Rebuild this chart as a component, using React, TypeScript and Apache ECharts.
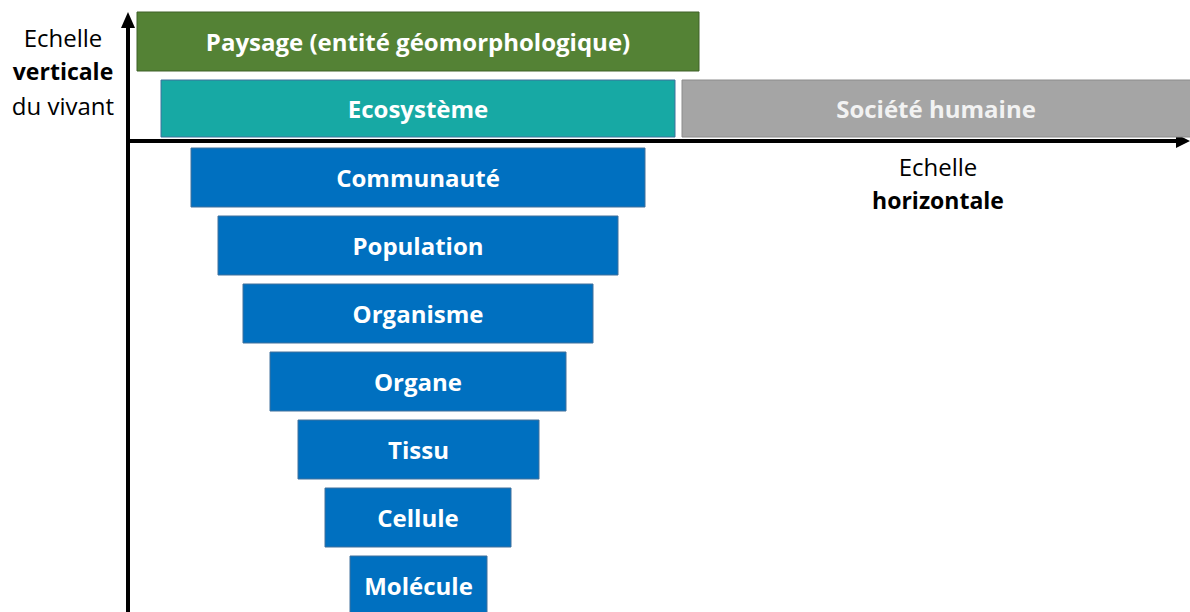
import React, { useEffect, useRef } from "react";
import * as echarts from "echarts";

const boxLabels = [
  "Paysage (entité géomorphologique)",
  "Ecosystème",
  "Société humaine",
  "Communauté",
  "Population",
  "Organisme",
  "Organe",
  "Tissu",
  "Cellule",
  "Molécule",
];
const boxStart = [137, 161, 682, 191, 218, 243, 270, 298, 325, 350];
const boxEnd = [699, 675, 1196, 645, 618, 593, 566, 539, 511, 487];
const boxTop = [12, 80, 80, 148, 216, 284, 352, 420, 488, 556];
const boxBottom = [71, 137, 137, 207, 275, 343, 411, 479, 547, 616];
const boxKind = [0, 1, 2, 3, 3, 3, 3, 3, 3, 3];

const kindFill = ["#548235", "#17A9A4", "#A5A5A5", "#0070C0"];
const kindStroke = ["#3E6128", "#41719C", "#8C8C8C", "#41719C"];

const verticalTitle = ["Echelle", "verticale", "du vivant"];
const horizontalTitle = ["Echelle", "horizontale"];

const FONT = "'Open Sans', Lato, sans-serif";

export default function App() {
  const ref = useRef<HTMLDivElement>(null);
  useEffect(() => {
    document.body.style.margin = "0";
    const chart = echarts.init(ref.current!, null, { renderer: "svg" });
    const data = boxLabels.map((l, i) => [boxStart[i], boxEnd[i], boxTop[i], boxBottom[i], boxKind[i], l]);
    chart.setOption({
      animation: false,
      backgroundColor: "#ffffff",
      grid: { left: 0, right: 0, top: 0, bottom: 0 },
      xAxis: { type: "value", min: 0, max: 1190, show: false },
      yAxis: { type: "value", min: 0, max: 612, inverse: true, show: false },
      series: [
        {
          type: "custom",
          clip: false,
          data,
          renderItem: (params: any, api: any) => {
            const p0 = api.coord([api.value(0), api.value(2)]);
            const p1 = api.coord([api.value(1), api.value(3)]);
            const k = api.value(4);
            const label = boxLabels[params.dataIndex];
            return {
              type: "group",
              children: [
                {
                  type: "rect",
                  shape: { x: p0[0], y: p0[1], width: p1[0] - p0[0], height: p1[1] - p0[1] },
                  style: { fill: kindFill[k], stroke: kindStroke[k], lineWidth: 1 },
                },
                {
                  type: "text",
                  x: (p0[0] + Math.min(p1[0], 1190)) / 2,
                  y: (p0[1] + Math.min(p1[1], 612)) / 2 + (params.dataIndex === 9 ? 1 : 0),
                  style: {
                    text: label,
                    fill: k === 2 ? "#F2F2F2" : "#ffffff",
                    font: `bold 24px ${FONT}`,
                    align: "center",
                    verticalAlign: "middle",
                  },
                },
              ],
            };
          },
        },
      ],
      graphic: [
        { type: "line", shape: { x1: 128, y1: 24, x2: 128, y2: 612 }, style: { stroke: "#000", lineWidth: 4 } },
        { type: "polygon", shape: { points: [[128, 12], [121, 28], [135, 28]] }, style: { fill: "#000" } },
        { type: "line", shape: { x1: 126, y1: 141, x2: 1178, y2: 141 }, style: { stroke: "#000", lineWidth: 4 } },
        { type: "polygon", shape: { points: [[1190, 141], [1176, 134], [1176, 148]] }, style: { fill: "#000" } },
        ...verticalTitle.map((t, i) => ({
          type: "text",
          x: 63,
          y: 37 + i * 34,
          style: {
            text: t,
            fill: "#000",
            font: `${i === 1 ? "bold 23px" : "24px"} ${FONT}`,
            align: "center",
            verticalAlign: "middle",
          },
        })),
        ...horizontalTitle.map((t, i) => ({
          type: "text",
          x: 938,
          y: 166 + i * 34,
          style: {
            text: t,
            fill: "#000",
            font: `${i === 1 ? "bold 23px" : "24px"} ${FONT}`,
            align: "center",
            verticalAlign: "middle",
          },
        })),
      ],
    });
    return () => chart.dispose();
  }, []);
  return <div ref={ref} style={{ width: 1190, height: 612 }} />;
}
